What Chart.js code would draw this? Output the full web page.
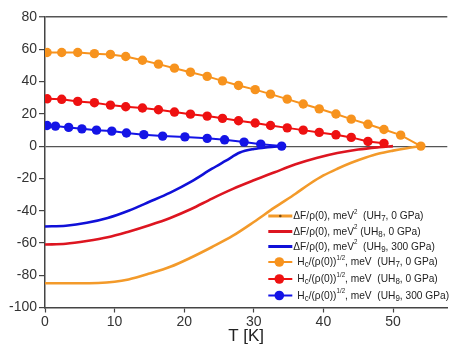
<!DOCTYPE html>
<html>
<head>
<meta charset="utf-8">
<script src="https://cdn.jsdelivr.net/npm/chart.js@4.4.1/dist/chart.umd.min.js"></script>
<style>
  html, body { margin: 0; padding: 0; background: #ffffff; overflow: hidden; }
  #wrap { width: 452px; height: 345px; position: relative; }
</style>
</head>
<body>
<div id="wrap"><canvas id="c" width="452" height="345"></canvas></div>
<script>
// ---- data ----
const yTicks = [80, 60, 40, 20, 0, -20, -40, -60, -80, -100];
const xTicks = [0, 10, 20, 30, 40, 50];

// Hc/(rho(0))^1/2 series (markers)
const T_H7 = [0.3, 2.4, 4.7, 7.1, 9.4, 11.6, 14.0, 16.3, 18.6, 20.9, 23.3, 25.5, 27.8, 30.2, 32.4, 34.8, 37.1, 39.4, 41.8, 44.0, 46.4, 48.7, 51.1, 54.0];
const H_UH7 = [58, 58, 58, 57.3, 56.8, 55.5, 53.2, 50.8, 48.3, 45.8, 43.2, 40.4, 37.6, 35, 32.2, 29.1, 26.1, 23.1, 19.9, 16.7, 13.5, 10.3, 6.8, 0];
const T_H8 = [0.3, 2.4, 4.7, 7.1, 9.4, 11.6, 14.0, 16.3, 18.6, 20.9, 23.3, 25.5, 27.8, 30.2, 32.4, 34.8, 37.1, 39.4, 41.8, 44.0, 46.4, 48.7];
const H_UH8 = [29.3, 29.0, 27.7, 26.9, 25.4, 24.4, 23.6, 22.5, 21.1, 19.8, 18.6, 17.2, 15.7, 14.3, 12.8, 11.3, 9.9, 8.5, 7.0, 5.4, 2.9, 1.7];
const T_H9 = [0.3, 1.5, 3.4, 5.3, 7.4, 9.6, 11.7, 14.2, 16.9, 20.1, 23.3, 25.8, 28.6, 31.0, 34.0];
const H_UH9 = [12.8, 12.4, 11.6, 10.7, 9.9, 9.3, 8.1, 7.1, 6.2, 5.7, 4.8, 3.9, 2.5, 1.2, 0];

// dF/rho(0) series (lines)
const T_F7 = [0, 5, 10, 12, 15, 18, 21, 24, 27, 30, 33, 36, 38, 40, 42, 44, 46, 48, 50, 52, 54];
const F_UH7 = [-85, -85, -84, -82.6, -79, -74.8, -69, -62.5, -55.5, -47, -38, -29.5, -23.5, -18.2, -14, -10.3, -7.2, -4.6, -2.8, -1.3, 0];
const T_F8 = [0, 3, 6, 9, 12, 15, 18, 21, 24, 27, 30, 33, 36, 39, 42, 45, 48, 50];
const F_UH8 = [-61, -60.5, -58.8, -56.5, -53, -49, -44.5, -39, -32.5, -26.5, -21.2, -16.2, -11.3, -7.4, -4.3, -2.1, -0.7, 0];
const T_F9 = [0, 3, 6, 9, 12, 15, 18, 21, 24, 26, 28, 30, 32, 34];
const F_UH9 = [-49.8, -49.3, -47.5, -44.5, -40, -34.5, -28.8, -22, -14, -9, -4, -1.8, -0.7, 0];

const legendLabels = [
  [['ΔF/ρ(0), meV', ''], ['2', 'sup'], ['  (UH', ''], ['7', 'sub'], [', 0 GPa)', '']],
  [['ΔF/ρ(0), meV', ''], ['2', 'sup'], [' (UH', ''], ['8', 'sub'], [', 0 GPa)', '']],
  [['ΔF/ρ(0), meV', ''], ['2', 'sup'], ['  (UH', ''], ['9', 'sub'], [', 300 GPa)', '']],
  [['H', ''], ['c', 'sub'], ['/(ρ(0))', ''], ['1/2', 'sup'], [', meV  (UH', ''], ['7', 'sub'], [', 0 GPa)', '']],
  [['H', ''], ['c', 'sub'], ['/(ρ(0))', ''], ['1/2', 'sup'], [', meV  (UH', ''], ['8', 'sub'], [', 0 GPa)', '']],
  [['H', ''], ['c', 'sub'], ['/(ρ(0))', ''], ['1/2', 'sup'], [', meV  (UH', ''], ['9', 'sub'], [', 300 GPa)', '']]
];

const ORANGE = '#F7931E', RED = '#EE1111', BLUE = '#1414E6';
const ORANGE_L = '#F39A2A', RED_L = '#DD1520', BLUE_L = '#1010D8';
const FONT = "'Liberation Sans', Arial, sans-serif";

function pts(xs, ys) { return xs.map((x, i) => ({ x: x, y: ys[i] })); }

const legendPlugin = {
  id: 'customLegend',
  afterDraw(chart) {
    const ctx = chart.ctx;
    const ca = chart.chartArea;
    const x0 = ca.right - 179, x1 = ca.right - 155;
    const rowsY = [216, 231.5, 246.5, 262, 279, 295.5].map(v => v - 307.5 + ca.bottom);
    const cols = [ORANGE_L, RED_L, BLUE_L, ORANGE, RED, BLUE];
    const sx = 0.885;
    ctx.save();
    rowsY.forEach((y, i) => {
      ctx.strokeStyle = cols[i];
      ctx.lineWidth = i < 3 ? 3 : 2;
      ctx.beginPath(); ctx.moveTo(x0, y); ctx.lineTo(x1, y); ctx.stroke();
      if (i === 0) {
        ctx.fillStyle = '#7a4a10';
        ctx.beginPath(); ctx.arc((x0 + x1) / 2, y, 1.3, 0, Math.PI * 2); ctx.fill();
      }
      if (i >= 3) {
        ctx.fillStyle = cols[i];
        ctx.beginPath(); ctx.arc((x0 + x1) / 2 - 1, y, 4.8, 0, Math.PI * 2); ctx.fill();
      }
      let tx = i < 3 ? x1 + 1 : x1 + 5;
      ctx.textBaseline = 'middle';
      ctx.fillStyle = '#222';
      legendLabels[i].forEach(([s, kind]) => {
        let size = 11.5, dy = 0;
        if (kind === 'sup') { size = 7; dy = -4; }
        if (kind === 'sub') { size = 9; dy = 3; }
        ctx.font = size + 'px ' + FONT;
        ctx.save();
        ctx.translate(tx, y + dy);
        ctx.scale(sx, 1);
        ctx.fillText(s, 0, 0);
        ctx.restore();
        tx += ctx.measureText(s).width * sx;
      });
    });
    ctx.restore();
  }
};

const ctx = document.getElementById('c').getContext('2d');
new Chart(ctx, {
  type: 'scatter',
  data: {
    datasets: [
      { label: 'H7', data: pts(T_H7, H_UH7), showLine: true, borderColor: ORANGE, backgroundColor: ORANGE, borderWidth: 2, pointRadius: 4.7, pointBorderWidth: 0, order: 0 },
      { label: 'H8', data: pts(T_H8, H_UH8), showLine: true, borderColor: RED, backgroundColor: RED, borderWidth: 2, pointRadius: 4.7, pointBorderWidth: 0, order: 0 },
      { label: 'H9', data: pts(T_H9, H_UH9), showLine: true, borderColor: BLUE, backgroundColor: BLUE, borderWidth: 2, pointRadius: 4.7, pointBorderWidth: 0, order: 0 },
      { label: 'F7', data: pts(T_F7, F_UH7), showLine: true, borderColor: ORANGE_L, borderWidth: 2.6, pointRadius: 0, cubicInterpolationMode: 'monotone', order: 1 },
      { label: 'F8', data: pts(T_F8, F_UH8), showLine: true, borderColor: RED_L, borderWidth: 2.6, pointRadius: 0, cubicInterpolationMode: 'monotone', order: 1 },
      { label: 'F9', data: pts(T_F9, F_UH9), showLine: true, borderColor: BLUE_L, borderWidth: 2.6, pointRadius: 0, cubicInterpolationMode: 'monotone', order: 1 }
    ]
  },
  options: {
    responsive: false,
    animation: false,
    devicePixelRatio: 1,
    layout: { padding: { top: 17, right: 0, left: 0, bottom: 0 } },
    plugins: { legend: { display: false }, tooltip: { enabled: false } },
    scales: {
      x: {
        type: 'linear', min: 0, max: 57.8,
        afterBuildTicks(scale) { scale.ticks = xTicks.map(v => ({ value: v })); },
        afterFit(scale) { scale.height = 37.5; },
        ticks: { font: { family: FONT, size: 14 }, color: '#333', padding: 1, maxRotation: 0, includeBounds: false },
        grid: { drawOnChartArea: false, tickLength: 5, tickColor: '#444', tickWidth: 1.2 },
        border: { color: '#444', width: 1.5 },
        title: { display: true, text: 'T [K]', font: { family: FONT, size: 17 }, color: '#222', padding: { top: 0, bottom: -2 } }
      },
      y: {
        type: 'linear', min: -100, max: 80,
        afterBuildTicks(scale) { scale.ticks = yTicks.map(v => ({ value: v })); },
        afterFit(scale) { scale.width = 45; },
        ticks: { font: { family: FONT, size: 14 }, color: '#333', padding: 2 },
        grid: {
          drawOnChartArea: true, tickLength: 6, tickWidth: 1.2, tickColor: '#444',
          color: (c) => (c.tick && (c.tick.value === 0 || c.tick.value === 80)) ? '#555' : 'rgba(0,0,0,0)',
          lineWidth: (c) => (c.tick && c.tick.value === 80) ? 1.5 : 1.2
        },
        border: { color: '#444', width: 1.5 }
      }
    }
  },
  plugins: [legendPlugin]
});
</script>
</body>
</html>
